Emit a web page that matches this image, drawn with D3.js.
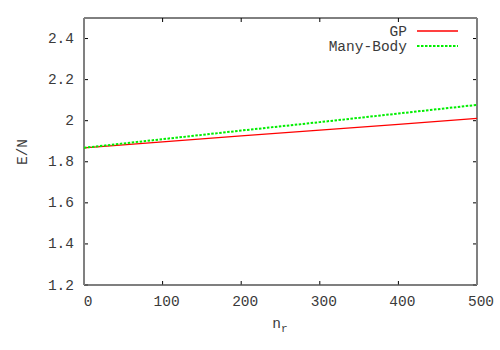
<!DOCTYPE html>
<html>
<head>
<meta charset="utf-8">
<script src="https://cdn.jsdelivr.net/npm/d3@7"></script>
<style>
  html, body { margin: 0; padding: 0; background: #fff; }
  svg text { font-family: "Liberation Mono", "DejaVu Sans Mono", monospace; font-size: 14.5px; fill: #3a3a3a; }
</style>
</head>
<body>
<svg id="chart" width="500" height="350"></svg>
<script>
const nr = [0, 100, 200, 300, 400, 500];
const gpValues = [1.868, 1.897, 1.926, 1.954, 1.982, 2.011];
const manyBodyValues = [1.868, 1.910, 1.952, 1.993, 2.035, 2.077];
const xTicks = [0, 100, 200, 300, 400, 500];
const yTicks = [1.2, 1.4, 1.6, 1.8, 2.0, 2.2, 2.4];
const seriesNames = ["GP", "Many-Body"];

const svg = d3.select("#chart");
const L = 84, R = 477, T = 18, B = 285;
const x = d3.scaleLinear().domain([0, 500]).range([L, R]);
const y = d3.scaleLinear().domain([1.2, 2.5]).range([B, T]);
const tickLen = 4;
const fmt = d => (Math.abs(d - 2) < 1e-9 ? "2" : d3.format(".1f")(d));

// ticks (inward, mirrored)
const g = svg.append("g");
xTicks.forEach(v => {
  g.append("line").attr("x1", x(v)).attr("x2", x(v)).attr("y1", B).attr("y2", B - tickLen).attr("stroke", "#000");
  g.append("line").attr("x1", x(v)).attr("x2", x(v)).attr("y1", T).attr("y2", T + tickLen).attr("stroke", "#000");
  g.append("text").attr("x", x(v) + 4).attr("y", 306).attr("text-anchor", "middle").text(v);
});
yTicks.forEach(v => {
  g.append("line").attr("x1", L).attr("x2", L + tickLen).attr("y1", y(v)).attr("y2", y(v)).attr("stroke", "#000");
  g.append("line").attr("x1", R).attr("x2", R - tickLen).attr("y1", y(v)).attr("y2", y(v)).attr("stroke", "#000");
  g.append("text").attr("x", 74).attr("y", y(v) + 4.5).attr("text-anchor", "end").text(fmt(v));
});

// border
svg.append("line").attr("x1", L).attr("x2", R).attr("y1", T).attr("y2", T).attr("stroke", "#000").attr("stroke-width", 1);
svg.append("line").attr("x1", L).attr("x2", R).attr("y1", B).attr("y2", B).attr("stroke", "#555").attr("stroke-width", 1.5);
svg.append("line").attr("x1", L).attr("x2", L).attr("y1", T).attr("y2", B).attr("stroke", "#808080").attr("stroke-width", 2);
svg.append("line").attr("x1", R).attr("x2", R).attr("y1", T).attr("y2", B).attr("stroke", "#808080").attr("stroke-width", 2);

// lines
const line = d3.line().x((d, i) => x(nr[i])).y(d => y(d));
svg.append("path").datum(gpValues).attr("d", line).attr("fill", "none").attr("stroke", "#ff0000").attr("stroke-width", 1.3);
svg.append("path").datum(manyBodyValues).attr("d", line).attr("fill", "none").attr("stroke", "#00ee00").attr("stroke-width", 2).attr("stroke-dasharray", "2.5,1.5");

// legend
const legY = [31, 46];
const styles = [
  { stroke: "#ff0000", w: 1.3, dash: null },
  { stroke: "#00ee00", w: 2, dash: "2.5,1.5" }
];
seriesNames.forEach((n, i) => {
  svg.append("text").attr("x", 407).attr("y", legY[i] + 5).attr("text-anchor", "end").text(n);
  const l = svg.append("line").attr("x1", 417).attr("x2", 458).attr("y1", legY[i]).attr("y2", legY[i])
    .attr("stroke", styles[i].stroke).attr("stroke-width", styles[i].w);
  if (styles[i].dash) l.attr("stroke-dasharray", styles[i].dash);
});

// axis labels
svg.append("text").attr("transform", "translate(27,152) rotate(-90)").attr("text-anchor", "middle").text("E/N");
const xl = svg.append("text").attr("x", 280).attr("y", 328).attr("text-anchor", "middle");
xl.append("tspan").text("n");
xl.append("tspan").attr("dy", 4).style("font-size", "11px").text("r");
</script>
</body>
</html>
